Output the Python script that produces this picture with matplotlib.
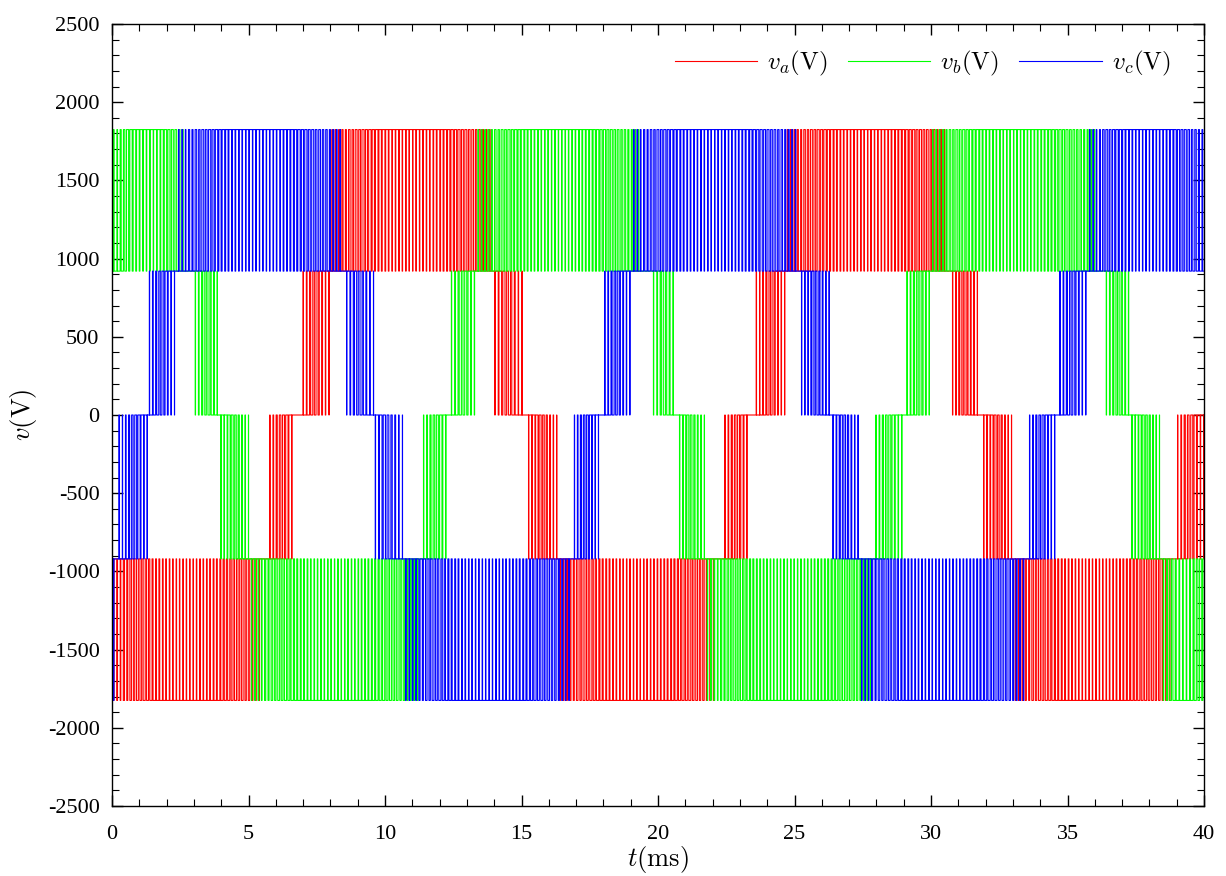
import matplotlib
matplotlib.use("Agg")
import matplotlib.pyplot as plt
from matplotlib.ticker import MultipleLocator, FuncFormatter

plt.rcParams['font.family'] = ['Liberation Serif', 'DejaVu Serif']
plt.rcParams['mathtext.fontset'] = 'cm'
plt.rcParams['axes.unicode_minus'] = False

# levels of the 5-level output (V)
V_OUT = 1825
V_IN = 920

# carrier period (ms)
TC = 0.125

# band schedule: start (ms), end (ms), band
# T = top band, B = bottom band, LU/UU = lower/upper middle rising, UD/LD = falling
A_T0 = [0.0, 5.72, 6.94, 8.00, 13.96, 15.20, 16.35, 22.39, 23.54, 24.68, 30.73, 31.87, 33.03, 38.97]
A_T1 = [5.45, 6.59, 7.95, 13.90, 15.02, 16.29, 22.10, 23.26, 24.64, 30.55, 31.70, 32.95, 38.80, 40.0]
A_BAND = ['B', 'LU', 'UU', 'T', 'UD', 'LD', 'B', 'LU', 'UU', 'T', 'UD', 'LD', 'B', 'LU']

B_T0 = [0.0, 2.99, 3.93, 5.05, 11.35, 12.37, 13.35, 19.77, 20.73, 21.75, 27.92, 29.06, 30.00, 36.36, 37.30, 38.45]
B_T1 = [2.65, 3.86, 5.00, 11.25, 12.23, 13.28, 19.35, 20.56, 21.70, 27.85, 28.93, 29.94, 36.05, 37.24, 38.37, 40.0]
B_BAND = ['T', 'UD', 'LD', 'B', 'LU', 'UU', 'T', 'UD', 'LD', 'B', 'LU', 'UU', 'T', 'UD', 'LD', 'B']

C_T0 = [0.0, 0.20, 1.31, 2.38, 8.53, 9.58, 10.70, 16.88, 17.99, 19.05, 25.20, 26.35, 27.40, 33.55, 34.66, 35.75]
C_T1 = [0.12, 1.29, 2.29, 8.42, 9.58, 10.64, 16.80, 17.82, 18.97, 25.10, 26.27, 27.33, 33.45, 34.53, 35.67, 40.0]
C_BAND = ['B', 'LU', 'UU', 'T', 'UD', 'LD', 'B', 'LU', 'UU', 'T', 'UD', 'LD', 'B', 'LU', 'UU', 'T']

# share of each carrier period spent at the outer level in the top / bottom band
TOP_DUTY = [0.12, 0.22, 0.18, 0.35, 0.30, 0.45, 0.40, 0.55, 0.50, 0.62, 0.58, 0.70,
            0.66, 0.75, 0.72, 0.80, 0.78, 0.85, 0.82, 0.88, 0.84, 0.90, 0.86, 0.92,
            0.88, 0.90, 0.85, 0.88, 0.82, 0.86, 0.78, 0.80, 0.74, 0.76, 0.68, 0.70,
            0.62, 0.64, 0.55, 0.58, 0.48, 0.50, 0.40, 0.42, 0.32, 0.30, 0.22, 0.15]
# share of each carrier period spent at the next level in the middle bands
MID_DUTY = [0.08, 0.20, 0.33, 0.45, 0.58, 0.70, 0.82, 0.93]

# base level, pulse level, level after the band
BAND_LEVELS = {
    'T': (V_IN, V_OUT, V_IN),
    'B': (-V_IN, -V_OUT, -V_IN),
    'LU': (-V_IN, 0, 0),
    'UU': (0, V_IN, V_IN),
    'UD': (V_IN, 0, 0),
    'LD': (0, -V_IN, -V_IN),
}


def build(t0s, t1s, bands):
    ts, vs = [], []
    cur = BAND_LEVELS[bands[0]][0]
    ts.append(0.0); vs.append(cur)
    for a, b, band in zip(t0s, t1s, bands):
        base, pulse, after = BAND_LEVELS[band]
        duty = TOP_DUTY if band in ('T', 'B') else MID_DUTY
        ts.append(a); vs.append(cur)
        n = max(1, round((b - a) / TC))
        tc = (b - a) / n
        for k in range(n):
            d = duty[min(int(k * len(duty) / n), len(duty) - 1)]
            s = a + k * tc
            e1 = s + (1 - d) / 2 * tc
            e2 = s + (1 + d) / 2 * tc
            ts += [s, e1, e1, e2, e2]
            vs += [base, base, pulse, pulse, base]
        ts += [b, b]
        vs += [base, after]
        cur = after
    ts.append(40.0); vs.append(cur)
    return ts, vs


fig = plt.figure(figsize=(12.26, 8.76), dpi=100)
ax = fig.add_axes([0.0914, 0.0799, 0.8907, 0.8927])

ta, va = build(A_T0, A_T1, A_BAND)
tb, vb = build(B_T0, B_T1, B_BAND)
tcc, vc = build(C_T0, C_T1, C_BAND)
ax.plot(ta, va, color='#ff0000', lw=0.8, label=r'$v_a(\mathrm{V})$')
ax.plot(tb, vb, color='#00ff00', lw=0.8, label=r'$v_b(\mathrm{V})$')
ax.plot(tcc, vc, color='#0000ff', lw=0.8, label=r'$v_c(\mathrm{V})$')

ax.set_xlim(0, 40)
ax.set_ylim(-2500, 2500)
ax.xaxis.set_major_locator(MultipleLocator(5))
ax.xaxis.set_minor_locator(MultipleLocator(1))
ax.yaxis.set_major_locator(MultipleLocator(500))
ax.yaxis.set_minor_locator(MultipleLocator(100))
ax.yaxis.set_major_formatter(FuncFormatter(lambda v, p: '%d' % v))
ax.tick_params(which='both', direction='in', top=True, right=True, labelsize=16)
ax.tick_params(which='major', length=8, width=1)
ax.tick_params(axis='y', which='major', pad=9)
ax.tick_params(axis='x', which='major', pad=14)
ax.tick_params(which='minor', length=5, width=0.8)
for sp in ax.spines.values():
    sp.set_linewidth(1)

ax.set_xlabel(r'$t(\mathrm{ms})$', fontsize=19, labelpad=0)
ax.set_ylabel(r'$v(\mathrm{V})$', fontsize=19, labelpad=6)

ax.legend(loc='upper right', ncol=3, frameon=False, fontsize=18,
          handlelength=3.3, columnspacing=0.8, handletextpad=0.4,
          bbox_to_anchor=(0.99, 0.997))

fig.savefig('out.png', dpi=100)
